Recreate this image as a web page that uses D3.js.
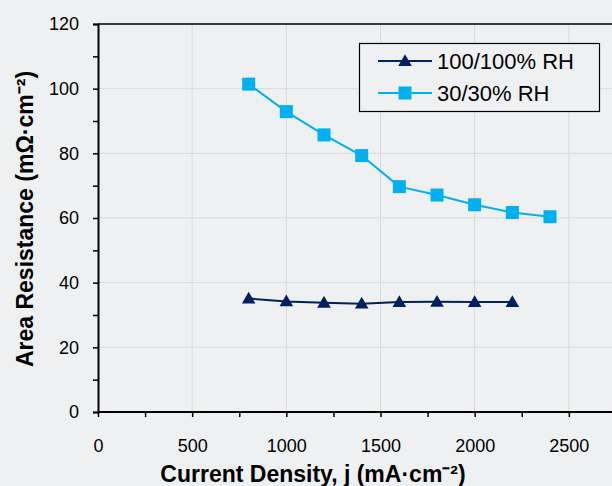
<!DOCTYPE html>
<html>
<head>
<meta charset="utf-8">
<style>
body { margin: 0; background: #eff0f2; }
svg { font-family: "Liberation Sans", Arial, sans-serif; }
</style>
</head>
<body>
<svg width="612" height="486"></svg>
<script src="https://d3js.org/d3.v7.min.js"></script>
<script>

// values
var currentDensity = [800, 1000, 1200, 1400, 1600, 1800, 2000, 2200, 2400];
var rh100 = [35.1, 34.2, 33.8, 33.5, 34.0, 34.1, 34.0, 34.0];
var rh30 = [101.4, 92.9, 85.7, 79.3, 69.7, 67.1, 64.1, 61.7, 60.4];
var seriesNames = ["100/100% RH", "30/30% RH"];
var xTicks = [0, 500, 1000, 1500, 2000, 2500];
var yTicks = [0, 20, 40, 60, 80, 100, 120];

var svg = d3.select("svg");

var x = d3.scaleLinear().domain([0, 3000]).range([98, 663]);
var y = d3.scaleLinear().domain([0, 120]).range([412, 24]);

// gridlines
svg.append("g").selectAll("line")
    .data(xTicks.slice(1))
  .enter().append("line")
    .attr("x1", function(d) { return x(d); })
    .attr("x2", function(d) { return x(d); })
    .attr("y1", y(0)).attr("y2", y(120))
    .attr("stroke", "#d9d9d9").attr("stroke-width", 1);

svg.append("g").selectAll("line")
    .data(yTicks.slice(1))
  .enter().append("line")
    .attr("x1", x(0)).attr("x2", 612)
    .attr("y1", function(d) { return y(d); })
    .attr("y2", function(d) { return y(d); })
    .attr("stroke", "#d9d9d9").attr("stroke-width", 1);

// top border
svg.append("line")
    .attr("x1", x(0)).attr("x2", 612)
    .attr("y1", y(120)).attr("y2", y(120))
    .attr("stroke", "#000").attr("stroke-width", 1.5);

// axes
var xAxis = svg.append("g")
    .attr("transform", "translate(0," + y(0) + ")")
    .call(d3.axisBottom(x).tickValues(xTicks).tickSize(5).tickPadding(22).tickFormat(d3.format("d")));
var xMinor = svg.append("g")
    .attr("transform", "translate(0," + y(0) + ")")
    .call(d3.axisBottom(x).tickValues(d3.range(250, 3000, 500)).tickSize(5).tickFormat(""));

var yAxis = svg.append("g")
    .attr("transform", "translate(" + x(0) + ",0)")
    .call(d3.axisLeft(y).tickValues(yTicks).tickSize(5).tickPadding(14));
var yMinor = svg.append("g")
    .attr("transform", "translate(" + x(0) + ",0)")
    .call(d3.axisLeft(y).tickValues(d3.range(10, 120, 20)).tickSize(5).tickFormat(""));

[xAxis, xMinor, yAxis, yMinor].forEach(function(g) {
  g.select(".domain").attr("stroke", "#000").attr("stroke-width", 2);
  g.selectAll(".tick line").attr("stroke", "#000").attr("stroke-width", 1.5);
  g.selectAll("text").attr("font-size", 18).attr("fill", "#000")
    .attr("font-family", "'Liberation Sans', Arial, sans-serif");
});
xAxis.select(".domain").attr("d", "M" + x(0) + ",0H612");
xMinor.select(".domain").remove();
yMinor.select(".domain").remove();

// axis titles
svg.append("text")
    .attr("x", 313).attr("y", 482)
    .attr("text-anchor", "middle")
    .attr("font-size", 23).attr("font-weight", "bold")
    .text("Current Density, j (mA·cm⁻²)");

svg.append("text")
    .attr("transform", "translate(33,219) rotate(-90)")
    .attr("text-anchor", "middle")
    .attr("font-size", 23).attr("font-weight", "bold")
    .text("Area Resistance (mΩ·cm⁻²)");

var line = d3.line()
    .x(function(d) { return x(d[0]); })
    .y(function(d) { return y(d[1]); });

var data100 = rh100.map(function(v, i) { return [currentDensity[i], v]; });
var data30 = rh30.map(function(v, i) { return [currentDensity[i], v]; });

var navy = "#002060", cyan = "#00b0f0";
var tri = d3.symbol().type(d3.symbolTriangle).size(80);

svg.append("path").datum(data30)
    .attr("d", line).attr("fill", "none").attr("stroke", cyan).attr("stroke-width", 2);
svg.append("g").selectAll("rect")
    .data(data30)
  .enter().append("rect")
    .attr("x", function(d) { return x(d[0]) - 6.5; })
    .attr("y", function(d) { return y(d[1]) - 6.5; })
    .attr("width", 13).attr("height", 13)
    .attr("fill", cyan);

svg.append("path").datum(data100)
    .attr("d", line).attr("fill", "none").attr("stroke", navy).attr("stroke-width", 2);
svg.append("g").selectAll("path")
    .data(data100)
  .enter().append("path")
    .attr("d", tri)
    .attr("transform", function(d) { return "translate(" + x(d[0]) + "," + (y(d[1]) + 1) + ")"; })
    .attr("fill", navy);

// legend
var legend = svg.append("g");
legend.append("rect")
    .attr("x", 359.5).attr("y", 43.5).attr("width", 240).attr("height", 68)
    .attr("fill", "#eff0f2").attr("stroke", "#000").attr("stroke-width", 1.2);

var items = legend.selectAll("g.item")
    .data(seriesNames)
  .enter().append("g")
    .attr("class", "item")
    .attr("transform", function(d, i) { return "translate(0," + (61 + i * 32) + ")"; });

items.append("line")
    .attr("x1", 378).attr("x2", 432)
    .attr("stroke", function(d, i) { return i ? cyan : navy; })
    .attr("stroke-width", 2);

items.append("path")
    .attr("d", function(d, i) { return i ? d3.symbol().type(d3.symbolSquare).size(169)() : tri(); })
    .attr("transform", function(d, i) { return "translate(405," + (i ? 0 : 1) + ")"; })
    .attr("fill", function(d, i) { return i ? cyan : navy; });

items.append("text")
    .attr("x", 437).attr("y", 8)
    .attr("font-size", 22)
    .text(function(d) { return d; });

</script>
</body>
</html>
